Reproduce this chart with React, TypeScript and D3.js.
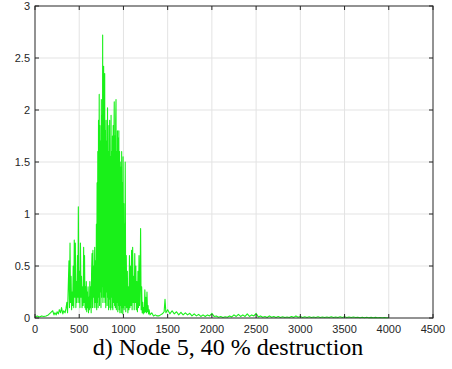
import React from "react";
import * as d3 from "d3";

// Spectrum samples: [frequency, amplitude]
const lowBand: [number, number][] = [
  [0, 0.01], [25, 0.02], [50, 0.01], [75, 0.02], [100, 0.015], [125, 0.02],
  [150, 0.03], [175, 0.05], [200, 0.07], [215, 0.03], [225, 0.05], [240, 0.03],
  [250, 0.06], [265, 0.04], [275, 0.08], [290, 0.05], [300, 0.1], [315, 0.04],
  [325, 0.07], [340, 0.05], [350, 0.09],
];

const sideBand: [number, number][] = [
  [360, 0.15], [368, 0.05], [376, 0.3], [384, 0.55], [390, 0.1], [396, 0.72],
  [402, 0.15], [408, 0.4], [414, 0.08], [420, 0.25], [426, 0.12], [432, 0.5],
  [438, 0.1], [444, 0.75], [450, 0.2], [456, 0.72], [462, 0.1], [468, 0.35],
  [474, 0.15], [480, 0.6], [486, 0.2], [490, 1.07], [496, 0.15], [502, 0.45],
  [508, 0.1], [514, 0.72], [520, 0.2], [526, 0.4], [532, 0.1], [538, 0.3],
  [544, 0.12], [550, 0.68], [556, 0.15], [560, 0.6], [565, 0.1], [570, 0.3],
  [575, 0.08], [580, 0.35], [585, 0.06], [590, 0.25], [595, 0.1], [600, 0.3],
  [605, 0.05], [610, 0.2], [615, 0.08], [620, 0.35], [625, 0.1], [630, 0.3],
  [635, 0.05], [640, 0.45], [645, 0.62], [650, 0.1], [655, 0.65], [660, 0.2],
  [665, 0.5], [670, 0.1], [675, 0.68], [680, 0.15], [685, 0.55],
];

const mainBand: [number, number][] = [
  [690, 0.1], [694, 0.9], [698, 0.08], [702, 1.3], [706, 0.15], [710, 1.6],
  [714, 0.1], [718, 1.9], [722, 0.2], [726, 2.15], [730, 0.12], [734, 1.85],
  [738, 0.25], [742, 1.7], [746, 0.1], [750, 2.1], [754, 0.2], [758, 1.95],
  [762, 0.3], [765, 2.72], [768, 0.15], [772, 1.9], [776, 2.42], [780, 0.2],
  [784, 2.0], [788, 2.35], [792, 0.15], [796, 1.8], [800, 0.1], [804, 1.9],
  [808, 0.25], [812, 1.7], [816, 0.12], [820, 2.02], [824, 0.2], [828, 1.6],
  [832, 0.08], [836, 1.85], [840, 0.18], [844, 1.9], [848, 0.1], [852, 1.55],
  [856, 0.08], [860, 1.95], [864, 0.2], [868, 1.6], [872, 0.1], [876, 1.75],
  [880, 0.08], [884, 1.85], [888, 0.15], [892, 1.7], [896, 2.08], [900, 0.12],
  [904, 1.75], [908, 0.1], [912, 1.9], [916, 2.1], [920, 0.08], [924, 1.6],
  [928, 0.15], [932, 1.8], [936, 0.06], [940, 1.73], [944, 0.12], [948, 1.8],
  [952, 0.08], [956, 1.6], [960, 0.05], [964, 1.5], [968, 0.12], [972, 1.45],
  [976, 0.05], [980, 1.6], [984, 0.1], [988, 1.3], [992, 0.04], [996, 1.55],
  [1000, 0.1], [1004, 1.1], [1008, 0.08], [1012, 0.9], [1016, 0.12], [1020, 1.5],
  [1026, 0.06], [1032, 0.6], [1038, 0.1], [1044, 0.45], [1050, 0.05],
];

const upperBand: [number, number][] = [
  [1056, 0.3], [1062, 0.08], [1068, 0.6], [1074, 0.1], [1080, 0.5], [1086, 0.12],
  [1092, 0.65], [1098, 0.08], [1104, 0.68], [1110, 0.15], [1116, 0.4], [1122, 0.08],
  [1128, 0.62], [1134, 0.15], [1140, 0.5], [1146, 0.08], [1152, 0.35], [1158, 0.06],
  [1164, 0.45], [1170, 0.1], [1176, 0.6], [1182, 0.12], [1188, 0.35], [1194, 0.86],
  [1200, 0.08], [1206, 0.3], [1212, 0.05], [1218, 0.15], [1224, 0.04], [1230, 0.1],
  [1236, 0.05], [1242, 0.27], [1248, 0.06], [1254, 0.2], [1260, 0.05], [1266, 0.25],
  [1272, 0.06], [1278, 0.12], [1284, 0.04], [1290, 0.08], [1300, 0.03], [1320, 0.05],
  [1340, 0.02], [1360, 0.03], [1380, 0.02], [1400, 0.02], [1420, 0.03], [1440, 0.04],
  [1460, 0.06], [1470, 0.18], [1480, 0.05],
];

const tailBand: [number, number][] = [
  [1500, 0.08], [1525, 0.04], [1550, 0.07], [1575, 0.04], [1600, 0.06], [1625, 0.03],
  [1650, 0.055], [1675, 0.03], [1700, 0.05], [1725, 0.03], [1750, 0.045], [1775, 0.02],
  [1800, 0.04], [1825, 0.02], [1850, 0.035], [1875, 0.015], [1900, 0.03], [1925, 0.015],
  [1950, 0.03], [1975, 0.02], [2000, 0.045], [2025, 0.015], [2050, 0.02], [2075, 0.008],
  [2100, 0.015], [2125, 0.005], [2150, 0.012], [2175, 0.008], [2200, 0.02], [2225, 0.01],
  [2250, 0.03], [2275, 0.015], [2300, 0.035], [2325, 0.015], [2350, 0.03], [2375, 0.015],
  [2400, 0.04], [2425, 0.015], [2450, 0.03], [2475, 0.02], [2500, 0.045], [2525, 0.01],
  [2550, 0.02], [2575, 0.008], [2600, 0.015], [2625, 0.005], [2650, 0.02], [2675, 0.008],
  [2700, 0.015], [2725, 0.005], [2750, 0.015], [2775, 0.005], [2800, 0.012], [2825, 0.004],
  [2850, 0.01], [2875, 0.004], [2900, 0.015], [2925, 0.006], [2950, 0.02], [2975, 0.008],
  [3000, 0.015], [3025, 0.005], [3050, 0.012], [3075, 0.005], [3100, 0.012], [3125, 0.004],
  [3150, 0.01], [3175, 0.004], [3200, 0.012], [3225, 0.004], [3250, 0.01], [3275, 0.004],
  [3300, 0.01], [3325, 0.004], [3350, 0.012], [3375, 0.004], [3400, 0.01], [3425, 0.004],
  [3450, 0.012], [3475, 0.005], [3500, 0.012], [3525, 0.004], [3550, 0.01], [3575, 0.004],
  [3600, 0.01], [3625, 0.004], [3650, 0.008], [3675, 0.003], [3700, 0.008], [3725, 0.003],
  [3750, 0.007], [3775, 0.003], [3800, 0.006], [3825, 0.003], [3850, 0.006], [3875, 0.002],
  [3900, 0.005], [3925, 0.002], [3950, 0.004], [3975, 0.002], [4000, 0.003],
];

const xTicks = [0, 500, 1000, 1500, 2000, 2500, 3000, 3500, 4000, 4500];
const yTicks = [0, 0.5, 1, 1.5, 2, 2.5, 3];
const caption = "d) Node 5, 40 % destruction";

const W = 452;
const H = 369;
const plot = { left: 35, right: 433, top: 6, bottom: 318 };

export default function App() {
  const x = d3.scaleLinear().domain([0, 4500]).range([plot.left, plot.right]);
  const y = d3.scaleLinear().domain([0, 3]).range([plot.bottom, plot.top]);
  const series = [...lowBand, ...sideBand, ...mainBand, ...upperBand, ...tailBand];
  const line = d3
    .line<[number, number]>()
    .x((d) => x(d[0]))
    .y((d) => y(d[1]));

  const axisColor = "#262626";
  const gridColor = "#e3e3e3";
  const tickLen = 4;

  return (
    <svg
      width={W}
      height={H}
      style={{ position: "absolute", left: 0, top: 0, background: "#fff" }}
    >
      <rect x={0} y={0} width={W} height={H} fill="#fff" />
      {/* grid */}
      {xTicks.slice(1, -1).map((t) => (
        <line key={"gx" + t} x1={x(t)} x2={x(t)} y1={plot.top} y2={plot.bottom} stroke={gridColor} strokeWidth={1} />
      ))}
      {yTicks.slice(1, -1).map((t) => (
        <line key={"gy" + t} x1={plot.left} x2={plot.right} y1={y(t)} y2={y(t)} stroke={gridColor} strokeWidth={1} />
      ))}
      {/* signal */}
      <path d={line(series) ?? ""} fill="none" stroke="#19f019" strokeWidth={1.1} strokeLinejoin="round" />
      {/* frame */}
      <rect
        x={plot.left}
        y={plot.top}
        width={plot.right - plot.left}
        height={plot.bottom - plot.top}
        fill="none"
        stroke={axisColor}
        strokeWidth={1}
      />
      {/* ticks */}
      {xTicks.map((t) => (
        <g key={"tx" + t}>
          <line x1={x(t)} x2={x(t)} y1={plot.bottom} y2={plot.bottom - tickLen} stroke={axisColor} />
          <line x1={x(t)} x2={x(t)} y1={plot.top} y2={plot.top + tickLen} stroke={axisColor} />
          <text
            x={x(t)}
            y={plot.bottom + 15}
            textAnchor="middle"
            fontFamily="'Liberation Sans', Arial, sans-serif"
            fontSize={11}
            fill={axisColor}
          >
            {t}
          </text>
        </g>
      ))}
      {yTicks.map((t) => (
        <g key={"ty" + t}>
          <line x1={plot.left} x2={plot.left + tickLen} y1={y(t)} y2={y(t)} stroke={axisColor} />
          <line x1={plot.right} x2={plot.right - tickLen} y1={y(t)} y2={y(t)} stroke={axisColor} />
          <text
            x={plot.left - 5}
            y={y(t) + 4}
            textAnchor="end"
            fontFamily="'Liberation Sans', Arial, sans-serif"
            fontSize={11}
            fill={axisColor}
          >
            {t}
          </text>
        </g>
      ))}
      {/* caption */}
      <text
        x={228}
        y={355}
        textAnchor="middle"
        fontFamily="'Liberation Serif', 'Times New Roman', serif"
        fontSize={24}
        fill="#000"
      >
        {caption}
      </text>
    </svg>
  );
}
